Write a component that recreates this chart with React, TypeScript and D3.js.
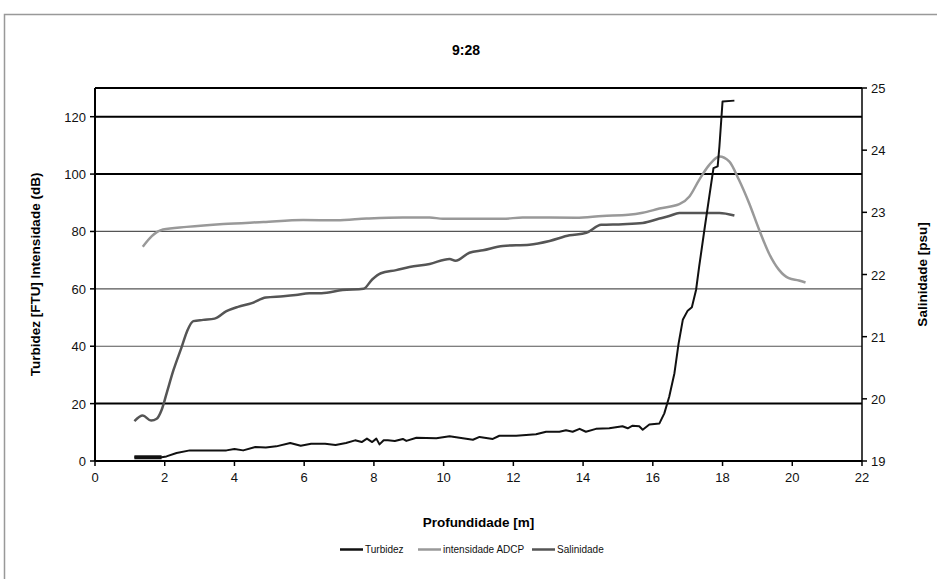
import * as d3 from 'd3'

const title = '9:28'
const xTicks = [0, 2, 4, 6, 8, 10, 12, 14, 16, 18, 20, 22]
const leftTicks = [0, 20, 40, 60, 80, 100, 120]
const rightTicks = [19, 20, 21, 22, 23, 24, 25]

// depth [m], turbidity [FTU]
const turbidez: [number, number][] = [
  [1.13, 1.3], [1.5, 1.3], [1.91, 1.3], [2.05, 1.6], [2.34, 2.8], [2.72, 3.7],
  [3.2, 3.7], [3.77, 3.7], [4.0, 4.2], [4.25, 3.7], [4.6, 4.9], [4.9, 4.7],
  [5.2, 5.1], [5.6, 6.3], [5.9, 5.3], [6.2, 6.0], [6.6, 6.0], [6.9, 5.6],
  [7.2, 6.3], [7.46, 7.2], [7.65, 6.6], [7.8, 7.8], [7.95, 6.6], [8.07, 7.8],
  [8.16, 5.8], [8.28, 7.2], [8.4, 7.2], [8.6, 7.0], [8.83, 7.7], [8.93, 7.0],
  [9.22, 8.1], [9.79, 7.9], [10.17, 8.6], [10.55, 7.9], [10.84, 7.4], [11.03, 8.4],
  [11.41, 7.7], [11.6, 8.8], [12.08, 8.8], [12.65, 9.3], [12.94, 10.2], [13.32, 10.2],
  [13.51, 10.7], [13.7, 10.2], [13.9, 11.2], [14.08, 10.2], [14.37, 11.2], [14.75, 11.4],
  [15.13, 12.1], [15.28, 11.4], [15.42, 12.3], [15.61, 12.1], [15.71, 10.9], [15.9, 12.7],
  [16.19, 13.1], [16.33, 16.6], [16.47, 22.4], [16.62, 30.6], [16.74, 41], [16.86, 49.2],
  [17.0, 52.4], [17.12, 53.6], [17.24, 59.6], [17.33, 67.8], [17.48, 80.6], [17.62, 92.2],
  [17.74, 102.1], [17.86, 102.7], [17.91, 109.6], [18.0, 125.3], [18.34, 125.6],
]

// depth [m], ADCP intensity [dB]
const intensidade: [number, number][] = [
  [1.37, 74.7], [1.63, 78.4], [1.95, 80.7], [2.63, 81.6], [3.68, 82.6], [4.83, 83.3],
  [5.97, 84.0], [6.93, 83.9], [7.79, 84.5], [8.83, 84.9], [9.6, 84.9], [9.98, 84.4],
  [11.7, 84.4], [12.27, 84.9], [13.8, 84.8], [14.56, 85.4], [15.3, 85.8], [15.71, 86.5],
  [16.19, 88.0], [16.76, 89.5], [17.05, 92.2], [17.33, 98.0], [17.62, 103.2], [17.91, 106.1],
  [18.19, 104.4], [18.47, 98.0], [18.76, 89.9], [19.05, 80.6], [19.33, 72.4], [19.62, 66.6],
  [19.9, 63.7], [20.19, 62.9], [20.38, 62.2],
]

// depth [m], salinity [psu]
const salinidade: [number, number][] = [
  [1.13, 19.64], [1.37, 19.73], [1.61, 19.65], [1.77, 19.68], [1.91, 19.82], [2.05, 20.08],
  [2.25, 20.46], [2.49, 20.84], [2.65, 21.1], [2.82, 21.25], [3.1, 21.27], [3.43, 21.29],
  [3.77, 21.41], [4.1, 21.48], [4.5, 21.54], [4.9, 21.63], [5.4, 21.65], [5.76, 21.67],
  [6.15, 21.7], [6.5, 21.7], [7.1, 21.75], [7.7, 21.77], [7.95, 21.92], [8.2, 22.02],
  [8.64, 22.07], [9.02, 22.12], [9.6, 22.17], [10.17, 22.25], [10.34, 22.22], [10.74, 22.35],
  [11.13, 22.39], [11.7, 22.46], [12.46, 22.48], [13.04, 22.54], [13.61, 22.63], [14.09, 22.67],
  [14.52, 22.8], [15.14, 22.81], [15.71, 22.83], [16.19, 22.9], [16.47, 22.94], [16.76, 22.99],
  [17.43, 22.99], [17.91, 22.99], [18.34, 22.95],
]

const series = [
  { name: 'Turbidez', color: '#111', width: 2 },
  { name: 'intensidade ADCP', color: '#999', width: 2.5 },
  { name: 'Salinidade', color: '#555', width: 2.5 },
]

const W = 937
const H = 579
const margin = { top: 88, right: 75, bottom: 118, left: 95 }
const font = '"Liberation Sans", Arial, sans-serif'

export default function App() {
  const innerW = W - margin.left - margin.right
  const innerH = H - margin.top - margin.bottom

  const x = d3.scaleLinear().domain([0, 22]).range([0, innerW])
  const yL = d3.scaleLinear().domain([0, 130]).range([innerH, 0])
  const yR = d3.scaleLinear().domain([19, 25]).range([innerH, 0])

  const lineL = d3
    .line<[number, number]>()
    .x((d) => x(d[0]))
    .y((d) => yL(d[1]))
  const smoothL = d3
    .line<[number, number]>()
    .x((d) => x(d[0]))
    .y((d) => yL(d[1]))
    .curve(d3.curveMonotoneX)
  const lineR = d3
    .line<[number, number]>()
    .x((d) => x(d[0]))
    .y((d) => yR(d[1]))
    .curve(d3.curveMonotoneX)

  // legend entries laid out left to right
  const legendX = [340, 418, 532]

  return (
    <svg
      width={W}
      height={H}
      style={{ position: 'absolute', left: 0, top: 0, background: '#fff' }}
      fontFamily={font}
    >
      <rect x={4.5} y={14.5} width={W + 10} height={H + 10} fill="#fff" stroke="#999" strokeWidth={1.5} />
      <text x={466} y={55} textAnchor="middle" fontSize={14} fontWeight="bold">
        {title}
      </text>

      <g transform={`translate(${margin.left},${margin.top})`}>
        {/* gridlines */}
        {[20, 40, 60, 80, 100, 120, 130].map((t) => {
          const strong = t === 20 || t === 100 || t === 120 || t === 130
          return (
            <line
              key={t}
              x1={0}
              x2={innerW}
              y1={yL(t)}
              y2={yL(t)}
              stroke={strong ? '#000' : '#555'}
              strokeWidth={strong ? 2 : 1.2}
            />
          )
        })}

        {/* left axis */}
        <line x1={0} x2={0} y1={0} y2={innerH} stroke="#000" strokeWidth={2} />
        <g fontSize={13} textAnchor="end" fill="#111">
          {leftTicks.map((t) => (
            <g key={t}>
              <line x1={-5} x2={0} y1={yL(t)} y2={yL(t)} stroke="#000" strokeWidth={1.5} />
              <text x={-9} y={yL(t) + 5}>
                {t}
              </text>
            </g>
          ))}
        </g>

        {/* right axis */}
        <line x1={innerW} x2={innerW} y1={0} y2={innerH} stroke="#000" strokeWidth={1.5} />
        <g fontSize={13} textAnchor="start" fill="#111">
          {rightTicks.map((t) => (
            <g key={t}>
              <line x1={innerW} x2={innerW + 5} y1={yR(t)} y2={yR(t)} stroke="#000" strokeWidth={1.5} />
              <text x={innerW + 9} y={yR(t) + 5}>
                {t}
              </text>
            </g>
          ))}
        </g>

        {/* bottom axis */}
        <line x1={0} x2={innerW} y1={innerH} y2={innerH} stroke="#000" strokeWidth={2} />
        <g fontSize={13} textAnchor="middle" fill="#111">
          {xTicks.map((t) => (
            <g key={t}>
              <line x1={x(t)} x2={x(t)} y1={innerH} y2={innerH + 5} stroke="#000" strokeWidth={1.5} />
              <text x={x(t)} y={innerH + 21}>
                {t}
              </text>
            </g>
          ))}
        </g>

        {/* series */}
        <path d={lineR(salinidade) ?? ''} fill="none" stroke={series[2].color} strokeWidth={series[2].width} />
        <path d={smoothL(intensidade) ?? ''} fill="none" stroke={series[1].color} strokeWidth={series[1].width} />
        <path
          d={lineL(turbidez) ?? ''}
          fill="none"
          stroke={series[0].color}
          strokeWidth={series[0].width}
          strokeLinejoin="round"
        />
        <line
          x1={x(turbidez[0][0])}
          x2={x(turbidez[2][0])}
          y1={yL(turbidez[0][1])}
          y2={yL(turbidez[0][1])}
          stroke={series[0].color}
          strokeWidth={4}
        />
      </g>

      {/* axis titles */}
      <text
        transform={`translate(40,${margin.top + innerH / 2}) rotate(-90)`}
        textAnchor="middle"
        fontSize={13.5}
        fontWeight="bold"
      >
        Turbidez [FTU] Intensidade (dB)
      </text>
      <text
        transform={`translate(927,${margin.top + innerH / 2}) rotate(-90)`}
        textAnchor="middle"
        fontSize={13.5}
        fontWeight="bold"
      >
        Salinidade [psu]
      </text>
      <text x={margin.left + innerW / 2} y={527} textAnchor="middle" fontSize={13.5} fontWeight="bold">
        Profundidade [m]
      </text>

      {/* legend */}
      <g fontSize={10} fill="#111">
        {series.map((s, i) => (
          <g key={s.name} transform={`translate(${legendX[i]},553)`}>
            <line x1={0} x2={23} y1={-3.5} y2={-3.5} stroke={s.color} strokeWidth={2.5} />
            <text x={25} y={0}>
              {s.name}
            </text>
          </g>
        ))}
      </g>
    </svg>
  )
}
